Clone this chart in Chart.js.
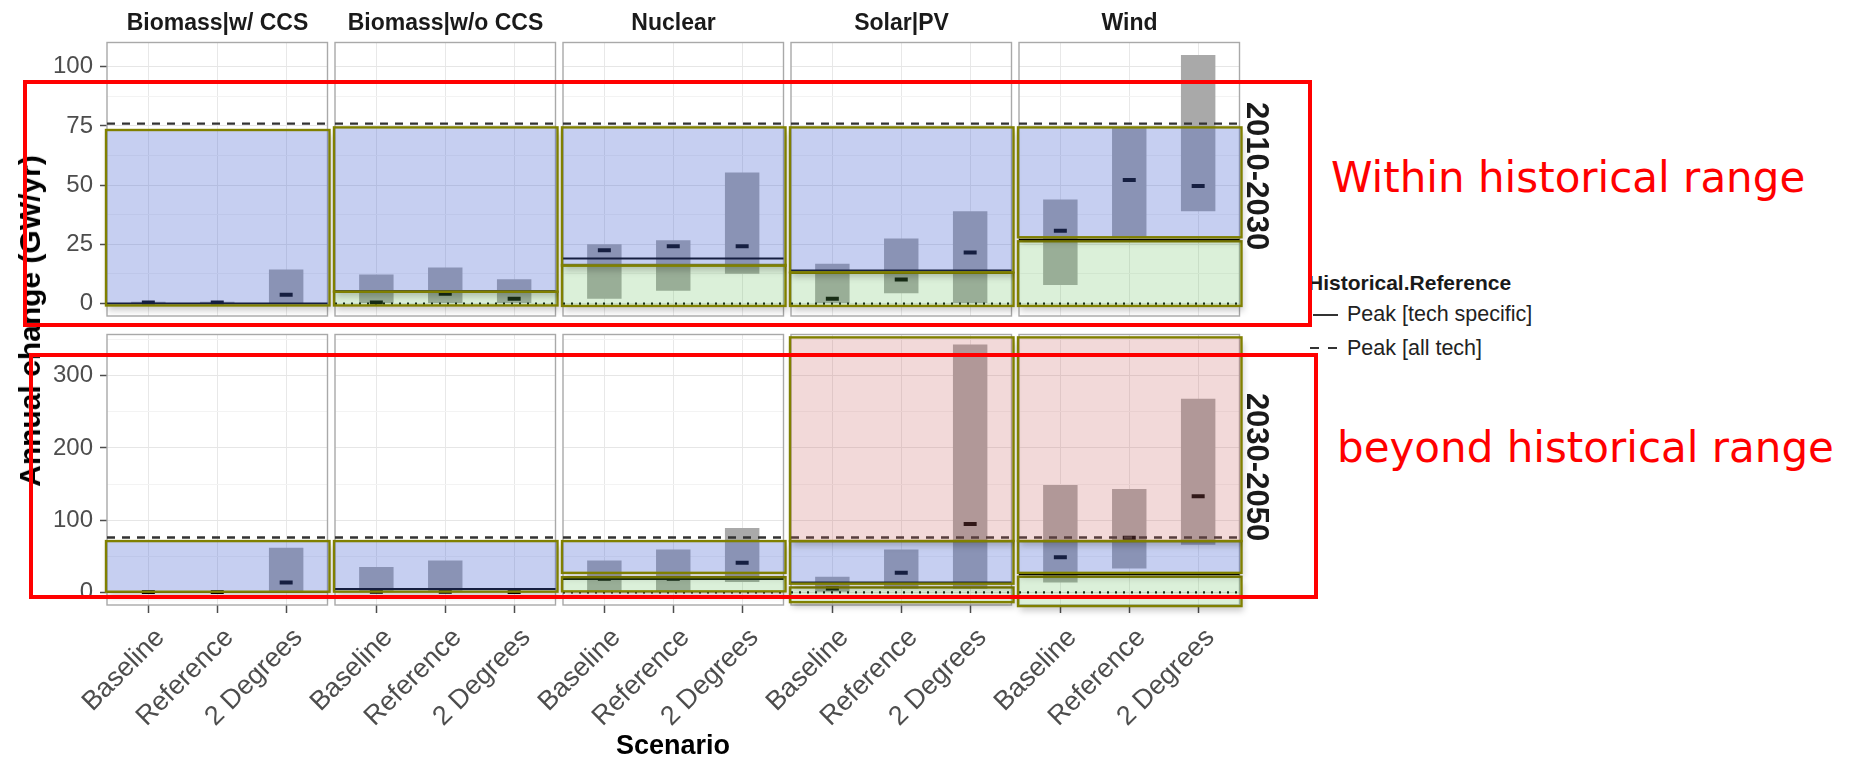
<!DOCTYPE html>
<html>
<head>
<meta charset="utf-8">
<script src="https://cdn.jsdelivr.net/npm/chart.js@4.4.0/dist/chart.umd.min.js"></script>
<style>
  body { margin: 0; width: 1850px; height: 757px; background: #fff; position: relative; overflow: hidden;
         font-family: "Liberation Sans", Arial, Helvetica, sans-serif; }
  .panel { position: absolute; }
  .lbl { position: absolute; white-space: nowrap; line-height: 1; }
  .redbox { position: absolute; border: 4.5px solid #ff0000; box-sizing: border-box; z-index: 10; }
</style>
</head>
<body>
<script>
const TECHS = ["Biomass|w/ CCS", "Biomass|w/o CCS", "Nuclear", "Solar|PV", "Wind"];
const PERIODS = ["2010-2030", "2030-2050"];
const SCENARIOS = ["Baseline", "Reference", "2 Degrees"];

// scenario ranges per technology, in scenario order
const LOW_2010 = [[0, 0, 0], [0, 0, 0], [2, 5.4, 12.6], [0, 4.4, 0], [7.8, 28, 39]];
const HIGH_2010 = [[0.8, 0.8, 14.4], [12.3, 15.2, 10.3], [25, 26.7, 55.4], [16.8, 27.5, 39], [44, 74.5, 105]];
const MEAN_2010 = [[0.4, 0.4, 3.7], [0.5, 4.1, 2], [22.5, 24.2, 24.2], [2, 10.2, 21.6], [30.8, 52.2, 49.7]];

const LOW_2030 = [[0, 0, 0], [0, 0, 0], [0, 0, 14.4], [0, 5, 5], [13.5, 33, 66]];
const HIGH_2030 = [[2, 2, 61.7], [35, 44, 2], [44, 59.4, 89], [21.6, 59.4, 343], [148.5, 143, 268]];
const MEAN_2030 = [[0.5, 0.5, 13.5], [1, 1, 0.5], [19, 19, 41], [5.4, 27, 94.5], [48.6, 75.6, 133]];

// historical reference lines
const PEAK_ALL_TECH = [76, 76];
const PEAK_TECH_2010 = [0, 5.3, 19, 14, 27];
const PEAK_TECH_2030 = [0.5, 4.5, 18.5, 13.5, 25];

// shaded ranges [from, to]
const WITHIN_2010 = [[-0.8, 73.3], [5, 74.4], [16, 74.4], [13.2, 74.4], [28, 74.4]];
const BELOW_2010 = [null, [-0.8, 5], [-1, 16.3], [-1, 13], [-1, 26.3]];
const BEYOND_2010 = [null, null, null, null, null];
const WITHIN_2030 = [[0.9, 71], [1, 71], [27, 71], [12, 71], [27, 71]];
const BELOW_2030 = [null, null, [1.4, 21], [-13.5, 6.8], [-19, 21.6]];
const BEYOND_2030 = [null, null, null, [71, 353], [71, 353]];

// axes
const Y_RANGE = [[-5.25, 110.25], [-17.5, 357]];
const Y_TICKS = [[0, 12.5, 25, 37.5, 50, 62.5, 75, 87.5, 100], [0, 50, 100, 150, 200, 250, 300, 350]];
const Y_LABELLED = [[0, 25, 50, 75, 100], [0, 100, 200, 300]];

const ROWS = [
  { low: LOW_2010, high: HIGH_2010, mean: MEAN_2010, peakAll: PEAK_ALL_TECH[0], peakTech: PEAK_TECH_2010,
    within: WITHIN_2010, below: BELOW_2010, beyond: BEYOND_2010 },
  { low: LOW_2030, high: HIGH_2030, mean: MEAN_2030, peakAll: PEAK_ALL_TECH[1], peakTech: PEAK_TECH_2030,
    within: WITHIN_2030, below: BELOW_2030, beyond: BEYOND_2030 },
];

const LAYOUT = { left: 107, pitch: 228, width: 221, top: [36, 328], height: [280, 277],
                 axisLeft: 75, spare: 45, axisBottom: 140 };

Chart.defaults.font.family = '"Liberation Sans", Arial, Helvetica, sans-serif';
Chart.defaults.animation = false;

const overlayPlugin = {
  id: "overlays",
  beforeDatasetsDraw(chart) {
    const { ctx, chartArea: a } = chart;
    ctx.save();
    ctx.strokeStyle = "#a9a9a9";
    ctx.lineWidth = 1.4;
    ctx.strokeRect(a.left, a.top, a.width, a.height);
    ctx.restore();
  },
  afterDatasetsDraw(chart, args, opts) {
    const { ctx, chartArea: a, scales: { y } } = chart;
    const d = ROWS[opts.row];
    const c = opts.col;

    const hline = (v, dash, color, width) => {
      const py = y.getPixelForValue(v);
      ctx.save();
      ctx.setLineDash(dash);
      ctx.strokeStyle = color;
      ctx.lineWidth = width;
      ctx.beginPath();
      ctx.moveTo(a.left, py);
      ctx.lineTo(a.right, py);
      ctx.stroke();
      ctx.restore();
    };
    hline(d.peakTech[c], [], "#000", 2);
    hline(d.peakAll, [8, 7], "#333", 2.4);
    if (d.below[c]) hline(0, [2, 6], "#000", 2.2);

    const shade = (range, fill) => {
      if (!range) return;
      const x0 = a.left - 1, x1 = a.right + 2;
      const y0 = y.getPixelForValue(range[1]), y1 = y.getPixelForValue(range[0]);
      // soft drop shadow outside the box
      ctx.save();
      ctx.beginPath();
      ctx.rect(0, 0, chart.width, chart.height);
      ctx.rect(x0, y0, x1 - x0, y1 - y0);
      ctx.clip("evenodd");
      ctx.filter = "blur(3px)";
      ctx.fillStyle = "rgba(0,0,0,0.2)";
      ctx.fillRect(x0 + 2, y0 + 5, x1 - x0, y1 - y0);
      ctx.restore();

      ctx.save();
      ctx.fillStyle = fill;
      ctx.fillRect(x0, y0, x1 - x0, y1 - y0);
      ctx.strokeStyle = "#808000";
      ctx.lineWidth = 2.4;
      ctx.strokeRect(x0, y0, x1 - x0, y1 - y0);
      ctx.restore();
    };
    shade(d.below[c], "rgba(100,190,90,0.23)");
    shade(d.within[c], "rgba(70,100,210,0.31)");
    shade(d.beyond[c], "rgba(200,100,100,0.245)");
  },
};

function makePanel(r, c) {
  const d = ROWS[r];
  const L = c === 0 ? LAYOUT.axisLeft : LAYOUT.spare;
  const T = 4, R = 10, B = r === 0 ? 14 : LAYOUT.axisBottom;

  const holder = document.createElement("div");
  holder.className = "panel";
  holder.style.left = (LAYOUT.left + c * LAYOUT.pitch - L) + "px";
  holder.style.top = (LAYOUT.top[r] - T) + "px";
  holder.style.width = (L + LAYOUT.width + R) + "px";
  holder.style.height = (T + LAYOUT.height[r] + B) + "px";
  const canvas = document.createElement("canvas");
  holder.appendChild(canvas);
  document.body.appendChild(holder);

  const isMajor = (ctx) => !!ctx.tick && Y_LABELLED[r].includes(ctx.tick.value);

  new Chart(canvas, {
    type: "bar",
    data: {
      datasets: [
        {
          type: "line",
          data: d.mean[c].map((m, i) => ({ x: i + 1, y: m })),
          showLine: false,
          pointStyle: "line",
          pointRadius: 6.5,
          pointHoverRadius: 6.5,
          pointBorderWidth: 4,
          borderColor: "#000",
          order: 0,
        },
        {
          type: "bar",
          data: SCENARIOS.map((s, i) => ({ x: i + 1, y: [d.low[c][i], d.high[c][i]] })),
          backgroundColor: "#a9a9a9",
          borderWidth: 0,
          categoryPercentage: 1,
          barPercentage: 0.5,
          order: 1,
        },
      ],
    },
    options: {
      responsive: true,
      maintainAspectRatio: false,
      events: [],
      layout: { padding: { top: T, right: R, bottom: r === 0 ? B : 0, left: 0 } },
      scales: {
        x: {
          type: "linear",
          min: 0.4,
          max: 3.6,
          offset: false,
          afterBuildTicks: (s) => { s.ticks = SCENARIOS.map((_, i) => ({ value: i + 1 })); },
          afterFit: (s) => { s.height = r === 1 ? B : 0; s.paddingLeft = 0; s.paddingRight = 0; },
          grid: {
            color: "#e8e8e8",
            offset: false,
            drawTicks: r === 1,
            tickLength: 8,
            tickColor: "#4d4d4d",
            tickWidth: 1.5,
          },
          border: { display: false },
          ticks: {
            display: r === 1,
            autoSkip: false,
            minRotation: 45,
            maxRotation: 45,
            padding: 9,
            labelOffset: 12,
            color: "#4d4d4d",
            font: { size: 27 },
            callback: (v) => SCENARIOS[Math.round(v) - 1],
          },
        },
        y: {
          min: Y_RANGE[r][0],
          max: Y_RANGE[r][1],
          afterBuildTicks: (s) => { s.ticks = Y_TICKS[r].map((v) => ({ value: v })); },
          afterFit: (s) => { s.width = L; s.paddingTop = 0; s.paddingBottom = 0; },
          grid: {
            color: (ctx) => (isMajor(ctx) ? "#e6e6e6" : "#f3f3f3"),
            drawTicks: c === 0,
            tickLength: 7,
            tickColor: (ctx) => (isMajor(ctx) ? "#4d4d4d" : "rgba(0,0,0,0)"),
            tickWidth: 1.5,
          },
          border: { display: false },
          ticks: {
            display: c === 0,
            padding: 7,
            color: "#4d4d4d",
            font: { size: 24 },
            callback: (v) => (Y_LABELLED[r].includes(v) ? String(v) : ""),
          },
        },
      },
      plugins: {
        legend: { display: false },
        tooltip: { enabled: false },
        overlays: { row: r, col: c },
      },
    },
    plugins: [overlayPlugin],
  });
}

for (let r = 0; r < PERIODS.length; r++) {
  for (let c = 0; c < TECHS.length; c++) makePanel(r, c);
}

function label(txt, x, y, css, transform) {
  const el = document.createElement("div");
  el.className = "lbl";
  el.textContent = txt;
  el.style.cssText += css;
  el.style.left = x + "px";
  el.style.top = y + "px";
  if (transform) el.style.transform = transform;
  document.body.appendChild(el);
  return el;
}

// facet strips
TECHS.forEach((t, c) => {
  label(t, LAYOUT.left + c * LAYOUT.pitch + LAYOUT.width / 2, 21.5,
        "font-weight:bold;font-size:23px;color:#1a1a1a;", "translate(-50%,-50%)");
});
PERIODS.forEach((p, r) => {
  label(p, 1257, LAYOUT.top[r] + LAYOUT.height[r] / 2,
        "font-weight:bold;font-size:31px;color:#1a1a1a;", "translate(-50%,-50%) rotate(90deg)");
});

// axis titles
label("Annual change (GW/yr)", 30, 321, "font-weight:bold;font-size:30px;color:#000;",
      "translate(-50%,-50%) rotate(-90deg)");
label("Scenario", 673, 745, "font-weight:bold;font-size:27px;color:#000;", "translate(-50%,-50%)");

// legend
label("Historical.Reference", 1308, 290 - 0.85 * 21, "font-weight:bold;font-size:21px;color:#1a1a1a;");
const solid = document.createElement("div");
solid.style.cssText = "position:absolute;left:1313px;top:314px;width:25px;height:2.4px;background:#333;";
document.body.appendChild(solid);
[1310, 1328].forEach((x) => {
  const dash = document.createElement("div");
  dash.style.cssText = "position:absolute;left:" + x + "px;top:347px;width:9px;height:2.4px;background:#333;";
  document.body.appendChild(dash);
});
label("Peak [tech specific]", 1347, 322 - 0.85 * 21.5, "font-size:21.5px;color:#222;");
label("Peak [all tech]", 1347, 356 - 0.85 * 21.5, "font-size:21.5px;color:#222;");

// annotations
const redBox = (l, t, w, h) => {
  const el = document.createElement("div");
  el.className = "redbox";
  el.style.left = l + "px";
  el.style.top = t + "px";
  el.style.width = w + "px";
  el.style.height = h + "px";
  document.body.appendChild(el);
};
redBox(23, 80, 1289, 247);
redBox(29, 353, 1289, 246);
label("Within historical range", 1331, 193 - 0.85 * 42,
      "font-family:'DejaVu Sans',sans-serif;font-size:42px;color:#ff0000;");
label("beyond historical range", 1337, 463 - 0.85 * 42,
      "font-family:'DejaVu Sans',sans-serif;font-size:42px;color:#ff0000;");
</script>
</body>
</html>
